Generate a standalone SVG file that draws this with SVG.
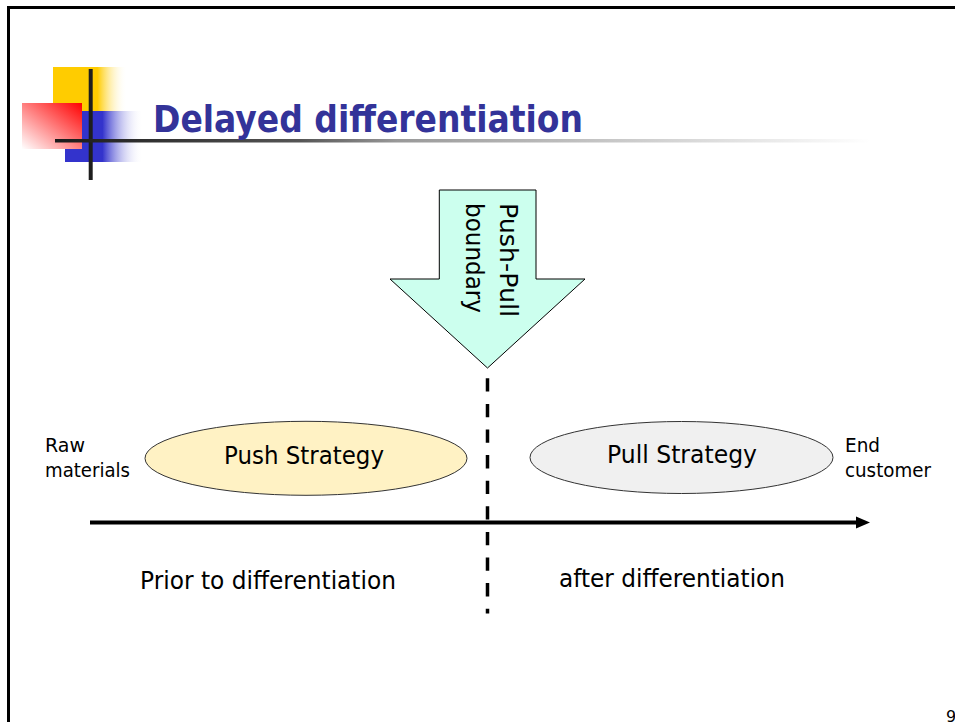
<svg xmlns="http://www.w3.org/2000/svg" width="955" height="722" viewBox="0 0 955 722">
<style>
  .body { font-family: "DejaVu Sans", Verdana, sans-serif; fill: #000; }
  .title { font-family: "DejaVu Sans", Verdana, sans-serif; font-weight: bold; fill: #333399; }
  .frame { stroke: #000; stroke-width: 3; fill: none; }
  .ell { stroke: #333; stroke-width: 1; }
</style>
<defs>
  <linearGradient id="gYellow" x1="0" y1="0" x2="1" y2="0">
    <stop offset="0" stop-color="#FFCC00"/>
    <stop offset="0.6" stop-color="#FFCC00"/>
    <stop offset="1" stop-color="#FFFFFF" stop-opacity="0"/>
  </linearGradient>
  <linearGradient id="gBlue" x1="0" y1="0" x2="1" y2="0">
    <stop offset="0" stop-color="#3333CC"/>
    <stop offset="0.48" stop-color="#3333CC"/>
    <stop offset="1" stop-color="#FFFFFF" stop-opacity="0"/>
  </linearGradient>
  <linearGradient id="gRed" x1="1" y1="0" x2="0" y2="1">
    <stop offset="0" stop-color="#FF0000"/>
    <stop offset="1" stop-color="#FFFFFF"/>
  </linearGradient>
  <linearGradient id="gRule" gradientUnits="userSpaceOnUse" x1="55" y1="0" x2="870" y2="0">
    <stop offset="0" stop-color="#1a1a1a"/>
    <stop offset="0.3" stop-color="#555555"/>
    <stop offset="0.42" stop-color="#999999"/>
    <stop offset="1" stop-color="#FFFFFF"/>
  </linearGradient>
  <marker id="arrowHead" markerUnits="userSpaceOnUse" markerWidth="16" markerHeight="14" refX="2" refY="6.5" orient="auto">
    <polygon points="0,0.5 14,6.5 0,12.5" fill="#000"/>
  </marker>
</defs>

<rect x="0" y="0" width="955" height="722" fill="#FFFFFF"/>

<g id="frame">
  <line class="frame" x1="7" y1="7.5" x2="955" y2="7.5"/>
  <line class="frame" x1="8.5" y1="6" x2="8.5" y2="722"/>
</g>

<g id="logo">
  <rect x="53" y="67" width="74" height="44.5" fill="url(#gYellow)"/>
  <rect x="65" y="111" width="78" height="51" fill="url(#gBlue)"/>
  <rect x="22" y="103" width="60" height="46" fill="url(#gRed)"/>
  <line x1="90.7" y1="69" x2="90.7" y2="180" stroke="#1e1e1e" stroke-width="4"/>
  <line x1="55" y1="140.7" x2="870" y2="140.7" stroke="url(#gRule)" stroke-width="3.5"/>
</g>

<g id="title">
  <text class="title" x="153" y="131.5" font-size="37.5" textLength="430" lengthAdjust="spacingAndGlyphs">Delayed differentiation</text>
</g>

<g id="push-pull-boundary">
  <polygon points="439.3,190 536,190 536,279 585,279 487.5,368 390,279 439.3,279" fill="#CCFFEE" stroke="#000" stroke-width="1"/>
  <text class="body" font-size="25" transform="translate(500,203) rotate(90)" textLength="114" lengthAdjust="spacingAndGlyphs">Push-Pull</text>
  <text class="body" font-size="25" transform="translate(465.5,203) rotate(90)" textLength="110" lengthAdjust="spacingAndGlyphs">boundary</text>
</g>

<g id="connectors">
  <line x1="487.5" y1="378.3" x2="487.5" y2="613.5" stroke="#000" stroke-width="3.5" stroke-dasharray="13.3 12.3"/>
  <line x1="90" y1="522.5" x2="858" y2="522.5" stroke="#000" stroke-width="4" marker-end="url(#arrowHead)"/>
</g>

<g id="push-strategy">
  <ellipse class="ell" cx="306" cy="458.3" rx="161" ry="37" fill="#FFF2C4"/>
  <text class="body" x="304" y="464" font-size="24.5" text-anchor="middle" textLength="160" lengthAdjust="spacingAndGlyphs">Push Strategy</text>
</g>

<g id="pull-strategy">
  <ellipse class="ell" cx="681.5" cy="457.5" rx="151.5" ry="36" fill="#F0F0F0"/>
  <text class="body" x="682" y="463" font-size="24.5" text-anchor="middle" textLength="150" lengthAdjust="spacingAndGlyphs">Pull Strategy</text>
</g>

<g id="raw-materials">
  <text class="body" x="45" y="452" font-size="19.5" textLength="40" lengthAdjust="spacingAndGlyphs">Raw</text>
  <text class="body" x="45" y="477" font-size="19.5" textLength="85" lengthAdjust="spacingAndGlyphs">materials</text>
</g>

<g id="end-customer">
  <text class="body" x="845" y="452" font-size="19.5" textLength="35" lengthAdjust="spacingAndGlyphs">End</text>
  <text class="body" x="845" y="477" font-size="19.5" textLength="86" lengthAdjust="spacingAndGlyphs">customer</text>
</g>

<g id="prior-label">
  <text class="body" x="140" y="588.5" font-size="25" textLength="256" lengthAdjust="spacingAndGlyphs">Prior to differentiation</text>
</g>

<g id="after-label">
  <text class="body" x="559" y="587" font-size="25" textLength="226" lengthAdjust="spacingAndGlyphs">after differentiation</text>
</g>

<g id="page-number">
  <text class="body" x="946" y="722" font-size="16">9</text>
</g>
</svg>
